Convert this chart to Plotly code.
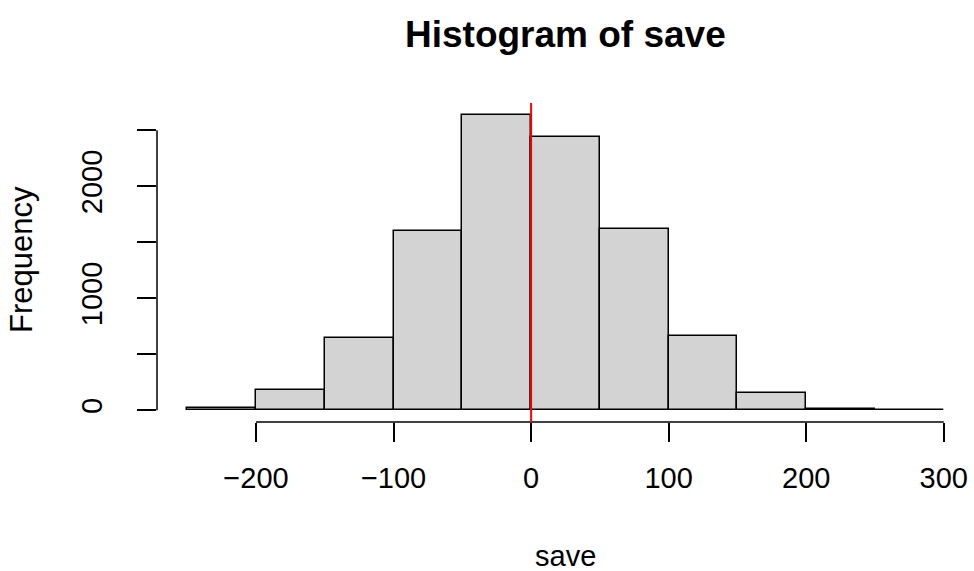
import plotly.graph_objects as go

# Histogram data (R hist of "save")
breaks = [-250, -200, -150, -100, -50, 0, 50, 100, 150, 200, 250, 300]
counts = [17, 179, 644, 1601, 2639, 2445, 1622, 659, 152, 15, 3]

x_ticks = [-200, -100, 0, 100, 200, 300]
x_labels = ["\u2212200", "\u2212100", "0", "100", "200", "300"]
y_ticks = [0, 500, 1000, 1500, 2000, 2500]
y_labels = ["0", "", "1000", "", "2000", ""]
vline_x = 0

centers = [(a + b) / 2 for a, b in zip(breaks[:-1], breaks[1:])]
widths = [b - a for a, b in zip(breaks[:-1], breaks[1:])]

FONT = "Liberation Sans, Arial, Helvetica, sans-serif"
BASE = 29

fig = go.Figure()
fig.add_trace(go.Bar(
    x=centers, y=counts, width=widths,
    marker=dict(color="#D3D3D3", line=dict(color="black", width=1.5)),
    hoverinfo="x+y", showlegend=False,
))

# R-style axis ranges (4% expansion)
xr = breaks[-1] - breaks[0]
xrange = [breaks[0] - 0.04 * xr, breaks[-1] + 0.04 * xr]
ymax = max(counts)
yrange = [-0.04 * ymax, ymax * 1.04]

PLOT_TOP, PLOT_BOTTOM, PLOT_LEFT, PLOT_RIGHT = 103, 422, 157, 974
PH = PLOT_BOTTOM - PLOT_TOP
PW = PLOT_RIGHT - PLOT_LEFT

fig.update_layout(
    width=974, height=571,
    margin=dict(l=PLOT_LEFT, r=974 - PLOT_RIGHT, t=PLOT_TOP, b=571 - PLOT_BOTTOM),
    paper_bgcolor="white", plot_bgcolor="white",
    font=dict(family=FONT, size=BASE, color="black"),
    bargap=0,
    xaxis=dict(
        range=xrange, showgrid=False, zeroline=False, showline=False,
        tickmode="array", tickvals=x_ticks, ticktext=x_labels,
        ticks="outside", ticklen=19, tickwidth=1.5, tickcolor="black",
        ticklabelstandoff=11, tickfont=dict(size=BASE, family=FONT),
    ),
    yaxis=dict(
        range=yrange, showgrid=False, zeroline=False, showline=False,
        tickmode="array", tickvals=y_ticks, ticktext=y_labels,
        ticks="outside", ticklen=19, tickwidth=1.5, tickcolor="black",
        tickangle=-90, ticklabelstandoff=23, tickfont=dict(size=BASE, family=FONT),
    ),
    shapes=[
        # x axis line limited to tick range
        dict(type="line", xref="x", yref="paper", x0=x_ticks[0], x1=x_ticks[-1],
             y0=0, y1=0, line=dict(color="black", width=1.5)),
        # y axis line limited to tick range
        dict(type="line", xref="paper", yref="y", x0=0, x1=0,
             y0=y_ticks[0], y1=y_ticks[-1], line=dict(color="black", width=1.5)),
        # red vertical reference line
        dict(type="line", xref="x", yref="paper", x0=vline_x, x1=vline_x,
             y0=0, y1=1, line=dict(color="#FF0000", width=2), layer="above"),
    ],
    annotations=[
        dict(text="<b>Histogram of save</b>", xref="paper", yref="paper",
             x=0.5, y=(PLOT_BOTTOM - 34) / PH, xanchor="center", yanchor="middle",
             showarrow=False, font=dict(size=37, family=FONT)),
        dict(text="save", xref="paper", yref="paper",
             x=0.5, y=(PLOT_BOTTOM - 556) / PH, xanchor="center", yanchor="middle",
             showarrow=False, font=dict(size=BASE, family=FONT)),
        dict(text="Frequency", xref="paper", yref="paper",
             x=(21 - PLOT_LEFT) / PW, y=(PLOT_BOTTOM - 260) / PH,
             xanchor="center", yanchor="middle",
             textangle=-90, showarrow=False, font=dict(size=31, family=FONT)),
    ],
)

fig.write_html("out.html", config={"displayModeBar": False},
               post_script="document.body.style.margin='0';")
